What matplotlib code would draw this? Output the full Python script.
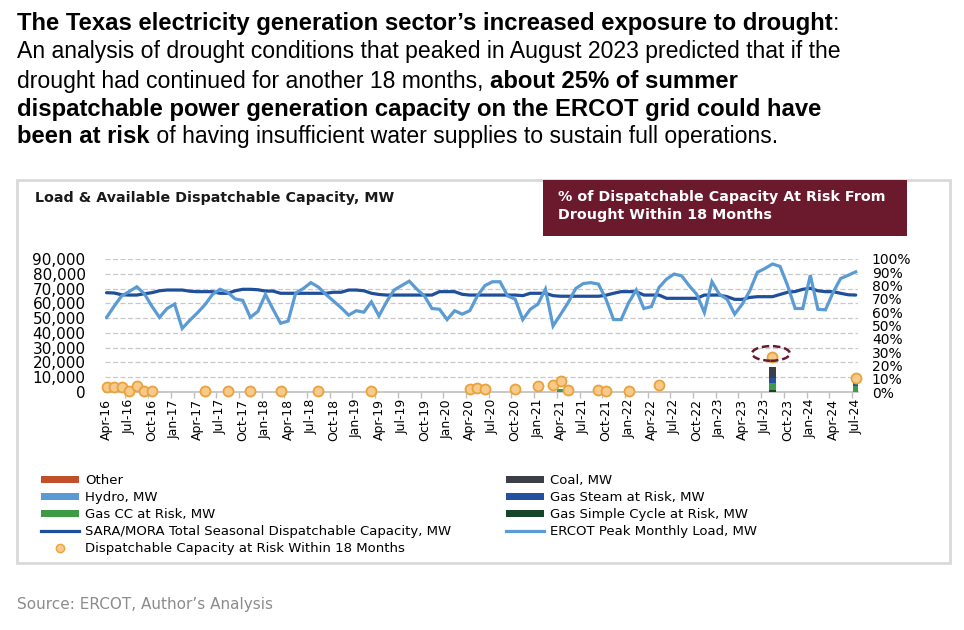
import matplotlib
matplotlib.use("Agg")
import matplotlib.pyplot as plt
from matplotlib.patches import Rectangle, Ellipse, Patch
from matplotlib.lines import Line2D
import numpy as np
import pandas as pd

# ---- data -------------------------------------------------------------
months = pd.date_range("2016-04-01", "2024-07-01", freq="MS").strftime("%b-%y").tolist()

# ERCOT peak monthly load, thousand MW (Apr-16 .. Jul-24)
peak_load_k = [
    50.4, 58.0, 65.0, 68.0, 71.2, 66.5, 58.0, 50.5, 56.5, 59.5, 43.0, 48.5,
    53.5, 59.0, 66.0, 69.5, 67.5, 63.0, 62.0, 50.5, 54.5, 66.0, 56.0, 46.5,
    48.0, 67.0, 70.0, 74.0, 71.0, 66.0, 61.5, 57.0, 52.0, 55.0, 54.0, 61.0,
    51.5, 61.0, 69.0, 72.0, 75.0, 69.6, 65.0, 56.5, 56.0, 49.0, 55.0, 52.7,
    55.0, 65.0, 72.0, 74.6, 74.6, 65.0, 62.8, 49.0, 56.0, 59.4, 69.6, 44.7,
    52.5, 60.5, 70.0, 73.4, 74.0, 73.0, 62.8, 49.0, 49.0, 60.5, 69.0, 56.5,
    57.8, 70.7, 76.4, 79.8, 78.6, 71.9, 66.0, 53.8, 74.6, 66.0, 62.8, 52.7,
    59.4, 68.5, 81.0, 83.6, 86.6, 85.0, 72.0, 56.5, 56.5, 79.0, 56.0, 55.6,
    67.3, 76.8, 79.0, 81.3,
]

# SARA/MORA total seasonal dispatchable capacity, thousand MW
sara_capacity_k = [
    67.2, 67.0, 65.8, 65.6, 65.6, 66.5, 67.2, 68.5, 69.0, 69.0, 69.0, 68.2,
    67.9, 67.9, 67.9, 66.8, 66.8, 68.5, 69.5, 69.5, 69.2, 68.3, 68.3, 66.8,
    66.8, 66.8, 66.8, 66.8, 66.8, 66.8, 67.5, 67.5, 69.0, 69.0, 68.5, 66.8,
    66.0, 65.6, 65.6, 65.6, 65.6, 65.6, 65.6, 65.6, 67.9, 67.9, 67.9, 66.1,
    65.6, 65.6, 65.6, 65.6, 65.6, 65.6, 65.6, 65.2, 66.8, 66.8, 66.8, 65.2,
    64.8, 64.8, 64.8, 64.8, 64.8, 64.8, 65.5, 66.8, 67.9, 67.9, 67.9, 65.6,
    65.6, 65.6, 63.4, 63.4, 63.4, 63.4, 63.4, 65.6, 65.6, 65.6, 64.5, 62.7,
    62.7, 64.0, 64.5, 64.5, 64.5, 66.0, 67.5, 68.0, 69.5, 70.2, 68.5, 67.9,
    67.9, 66.8, 65.8, 65.6,
]

# dispatchable capacity at risk within 18 months, % (right axis)
dot_months = ["Apr-16", "May-16", "Jun-16", "Jul-16", "Aug-16", "Sep-16", "Oct-16",
              "May-17", "Aug-17", "Nov-17", "Mar-18", "Aug-18", "Mar-19",
              "Apr-20", "May-20", "Jun-20", "Oct-20", "Jan-21", "Mar-21", "Apr-21",
              "May-21", "Sep-21", "Oct-21", "Jan-22", "May-22", "Aug-23", "Jul-24"]
dot_pct = [4.0, 4.0, 4.0, 1.0, 4.5, 1.0, 1.0,
           1.0, 1.0, 1.0, 0.5, 0.5, 0.5,
           2.0, 3.0, 2.0, 2.0, 4.5, 5.5, 8.5,
           1.5, 1.5, 0.5, 0.5, 5.0, 26.5, 10.5]

# stacked at-risk capacity by type, %
bar_months = ["Apr-21", "Aug-23", "Jul-24"]
gas_sc_risk = [0.0, 1.5, 0.0]
gas_cc_risk = [2.5, 5.0, 4.5]
gas_steam_risk = [0.0, 4.0, 2.0]
coal_risk = [0.0, 8.5, 2.5]
hydro_risk = [0.0, 0.0, 0.0]
other_risk = [0.0, 0.0, 0.0]

# ---- colours ------------------------------------------------------------
c_load = "#5b9bd5"
c_cap = "#1f4e9a"
c_dot = "#f7c98b"
c_dot_edge = "#e8a33c"
c_other = "#c0502a"
c_hydro = "#5b9bd5"
c_gascc = "#3e9a45"
c_coal = "#3c3f48"
c_steam = "#23509f"
c_sc = "#17452b"
maroon = "#6b1a2e"

W, H = 964, 630
fig = plt.figure(figsize=(W / 100, H / 100), dpi=100)
fig.patch.set_facecolor("white")


def fx(px):
    return px / W


def fy(py):
    return 1 - py / H


# ---- headline with mixed bold / regular --------------------------------
renderer = fig.canvas.get_renderer()
head_size = {"bold": 17.2, "normal": 16.6}


def rich_line(x, y, parts):
    for txt, weight in parts:
        t = fig.text(fx(x), fy(y), txt, fontsize=head_size[weight], fontweight=weight,
                     family="Liberation Sans", va="baseline", ha="left")
        x = t.get_window_extent(renderer).x1


rich_line(17, 30, [("The Texas electricity generation sector\u2019s increased exposure to drought", "bold"),
                   (":", "normal")])
rich_line(17, 58, [("An analysis of drought conditions that peaked in August 2023 predicted that if the", "normal")])
rich_line(17, 88, [("drought had continued for another 18 months, ", "normal"),
                   ("about 25% of summer", "bold")])
rich_line(17, 116, [("dispatchable power generation capacity on the ERCOT grid could have", "bold")])
rich_line(17, 143, [("been at risk", "bold"),
                    (" of having insufficient water supplies to sustain full operations.", "normal")])

# ---- panel frame and headers --------------------------------------------
fig.patches.append(Rectangle((fx(17), fy(563)), fx(950) - fx(17), fy(180) - fy(563),
                             transform=fig.transFigure, fill=False,
                             edgecolor="#d9d9d9", linewidth=2))
fig.patches.append(Rectangle((fx(543), fy(236)), fx(907) - fx(543), fy(180) - fy(236),
                             transform=fig.transFigure, facecolor=maroon,
                             edgecolor="none"))
fig.text(fx(35), fy(198), "Load & Available Dispatchable Capacity, MW",
         fontsize=10.3, fontweight="bold", color="#1a1a1a", va="center")
fig.text(fx(558), fy(197), "% of Dispatchable Capacity At Risk From",
         fontsize=10.3, fontweight="bold", color="white", va="center")
fig.text(fx(558), fy(215), "Drought Within 18 Months",
         fontsize=10.3, fontweight="bold", color="white", va="center")

fig.text(fx(17), fy(604), "Source: ERCOT, Author\u2019s Analysis",
         fontsize=11, color="#8c8c8c", va="center")

# ---- main axes ----------------------------------------------------------
ax = fig.add_axes([fx(105), fy(392), fx(858) - fx(105), fy(259) - fy(392)])
x = np.arange(len(months))
load = np.array(peak_load_k) * 1000
cap = np.array(sara_capacity_k) * 1000

ax.plot(x, cap, color=c_cap, lw=2.3, zorder=3, solid_capstyle="round")
ax.plot(x, load, color=c_load, lw=2.3, zorder=4, solid_joinstyle="miter")

ax.set_xlim(-0.2, 99.3)
ax.set_ylim(0, 90000)
ax.set_yticks(np.arange(0, 90001, 10000))
ax.set_yticklabels([f"{v:,}" for v in range(0, 90001, 10000)], fontsize=11)
ax.yaxis.grid(True, color="#c8c8c8", linestyle=(0, (4, 2)), linewidth=0.9)
ax.set_axisbelow(True)
ax.tick_params(axis="y", length=0, pad=14)
for s in ["top", "right", "left"]:
    ax.spines[s].set_visible(False)
ax.spines["bottom"].set_color("#bfbfbf")
ax.spines["bottom"].set_linewidth(1.2)

ax.set_xticks(x[::3])
ax.set_xticklabels(months[::3], rotation=90, fontsize=9)
ax.set_xticks(np.arange(2.5, 99, 3), minor=True)
ax.tick_params(axis="x", which="major", length=0, pad=5)
ax.tick_params(axis="x", which="minor", length=4, color="#bfbfbf", width=1)

# ---- right axis: risk share ---------------------------------------------
ax2 = ax.twinx()
ax2.set_ylim(0, 1.0)
ax2.set_yticks(np.arange(0, 1.01, 0.1))
ax2.set_yticklabels([f"{int(round(v * 100))}%" for v in np.arange(0, 1.01, 0.1)], fontsize=10)
ax2.tick_params(axis="y", length=0, pad=10)
for s in ax2.spines.values():
    s.set_visible(False)

bx = [months.index(m) for m in bar_months]
bottom = np.zeros(len(bx))
for vals, col in [(gas_sc_risk, c_sc), (gas_cc_risk, c_gascc),
                  (gas_steam_risk, c_steam), (coal_risk, c_coal),
                  (hydro_risk, c_hydro), (other_risk, c_other)]:
    v = np.array(vals) / 100
    ax2.bar(bx, v, bottom=bottom, width=0.85, color=col, zorder=3)
    bottom += v

dx = [months.index(m) for m in dot_months]
ax2.plot(dx, np.array(dot_pct) / 100, "o", ms=7.2, mfc=c_dot, mec=c_dot_edge,
         mew=1.3, zorder=5, clip_on=False)

ax2.add_patch(Ellipse((months.index("Aug-23") - 0.2, 0.29), 5.0, 0.11, fill=False,
                      edgecolor=maroon, linestyle=(0, (3, 1.5)), linewidth=1.8, zorder=6))

# ---- legend -------------------------------------------------------------
left_handles = [
    Patch(facecolor=c_other, label="Other"),
    Patch(facecolor=c_hydro, label="Hydro, MW"),
    Patch(facecolor=c_gascc, label="Gas CC at Risk, MW"),
    Line2D([], [], color=c_cap, lw=2.3, label="SARA/MORA Total Seasonal Dispatchable Capacity, MW"),
    Line2D([], [], marker="o", ls="none", ms=6, mfc=c_dot, mec=c_dot_edge,
           label="Dispatchable Capacity at Risk Within 18 Months"),
]
right_handles = [
    Patch(facecolor=c_coal, label="Coal, MW"),
    Patch(facecolor=c_steam, label="Gas Steam at Risk, MW"),
    Patch(facecolor=c_sc, label="Gas Simple Cycle at Risk, MW"),
    Line2D([], [], color=c_load, lw=2.3, label="ERCOT Peak Monthly Load, MW"),
]
leg_kw = dict(frameon=False, fontsize=9.5, handlelength=2.9, handleheight=0.45,
              handletextpad=0.45, labelspacing=0.3, borderpad=0, borderaxespad=0)
fig.legend(handles=left_handles, loc="upper left",
           bbox_to_anchor=(fx(41), fy(474)), **leg_kw)
fig.legend(handles=right_handles, loc="upper left",
           bbox_to_anchor=(fx(506), fy(474)), **leg_kw)

fig.savefig("out.png", dpi=100, facecolor="white")
